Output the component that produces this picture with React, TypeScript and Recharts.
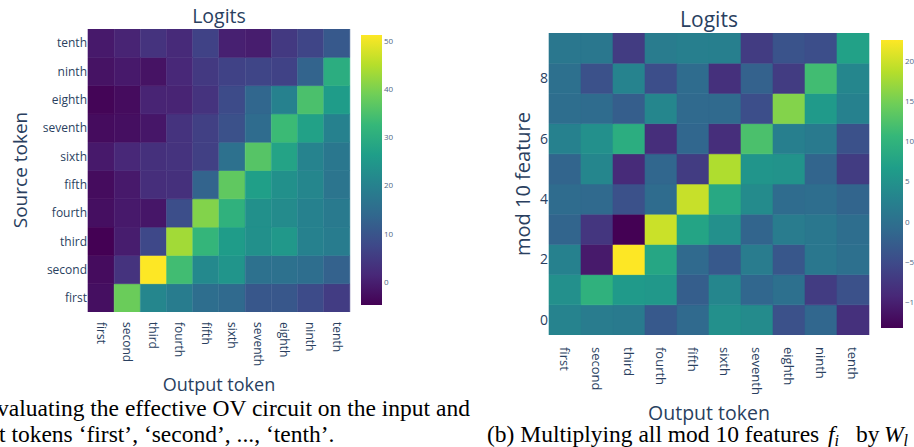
import { BarChart, Bar, Cell, XAxis, YAxis } from 'recharts';

const TOKENS = ['first', 'second', 'third', 'fourth', 'fifth', 'sixth', 'seventh', 'eighth', 'ninth', 'tenth'];

// OV circuit logits, one row per source token (first..tenth), columns = output token
const ovLogits: number[][] = [
  [-2.6, 38.4, 21.0, 18.8, 15.4, 14.3, 10.4, 10.4, 8.1, 5.3],
  [-3.0, 3.6, 51.3, 33.9, 21.6, 24.4, 16.0, 16.0, 15.4, 12.6],
  [-4.8, -0.3, 7.5, 43.4, 32.2, 26.0, 23.3, 25.0, 19.9, 18.8],
  [-2.6, -0.9, -1.4, 8.7, 40.6, 31.1, 23.3, 22.1, 19.9, 18.2],
  [-3.0, -0.9, 2.5, 3.0, 13.0, 37.3, 26.6, 23.3, 21.0, 17.0],
  [-0.9, 1.4, 3.0, 3.6, 5.9, 16.0, 36.2, 27.7, 20.4, 17.6],
  [-3.0, -2.6, -1.4, 3.6, 5.9, 9.2, 14.8, 33.3, 27.2, 19.9],
  [-4.2, -3.0, 0.8, 0.8, 3.6, 8.1, 13.7, 19.9, 35.0, 26.0],
  [-2.0, -0.9, -2.0, 1.4, 4.7, 6.4, 7.0, 6.4, 13.0, 30.0],
  [-0.9, 0.8, 3.6, 1.9, 6.4, 0.2, -0.3, 4.7, 7.0, 10.9],
];

// mod 10 feature logits, one row per feature 0..9
const modLogits: number[][] = [
  [2.9, 1.8, 1.5, -3.2, -1.0, 4.7, 4.0, -4.2, -1.4, -8.2],
  [4.7, 9.7, 6.1, 5.8, -2.5, 3.3, -1.4, 0.0, -6.8, -4.2],
  [2.6, -10.7, 22.6, 8.0, -1.0, -3.2, 1.8, -3.5, 1.1, 0.0],
  [-1.7, -7.5, -13.2, 19.8, 7.6, 4.7, -1.7, 1.8, 1.1, -0.3],
  [-0.7, -1.0, -4.2, -0.7, 19.6, 8.3, 4.0, -0.7, -0.3, -1.7],
  [-1.7, 3.3, -8.9, -1.4, -6.8, 18.3, 5.4, 5.1, -1.7, -6.8],
  [2.6, 4.7, 9.0, -8.5, -1.4, -8.5, 12.2, 2.2, 1.5, -4.2],
  [-0.3, -0.7, -2.5, 3.3, -1.0, -1.0, -4.6, 15.8, 6.1, 2.6],
  [0.0, -4.2, 2.9, -4.6, -0.7, -8.2, -2.1, -6.8, 11.5, 3.3],
  [1.1, 1.1, -6.8, 1.8, 2.2, 2.2, -6.8, -3.9, -4.6, 7.2],
];

const ovTicks = [0, 10, 20, 30, 40, 50];
const modTicks = [-10, -5, 0, 5, 10, 15, 20];
const modRowTicks = [0, 2, 4, 6, 8];

const VIRIDIS = ['#440154', '#482878', '#3e4989', '#31688e', '#26828e', '#1f9e89', '#35b779', '#6ece58', '#b5de2b', '#fde725'];
const INK = '#2a3f5f';
const PLOTLY_FONT = '"Open Sans", verdana, arial, sans-serif';
const SERIF = '"Liberation Serif", "Times New Roman", serif';

const hexToRgb = (h: string) => [1, 3, 5].map((i) => parseInt(h.slice(i, i + 2), 16));

function viridis(t: number) {
  const c = Math.max(0, Math.min(1, t)) * (VIRIDIS.length - 1);
  const i = Math.min(Math.floor(c), VIRIDIS.length - 2);
  const f = c - i;
  const a = hexToRgb(VIRIDIS[i]);
  const b = hexToRgb(VIRIDIS[i + 1]);
  const rgb = a.map((v, k) => Math.round(v + (b[k] - v) * f));
  return `rgb(${rgb.join(',')})`;
}

const extent = (m: number[][]) => {
  const flat = m.flat();
  return [Math.min(...flat), Math.max(...flat)] as [number, number];
};

// one entry per output column, each row stacked as a unit-height cell
function buildColumns(matrix: number[][]) {
  return TOKENS.map((name) => {
    const row: Record<string, number | string> = { name };
    matrix.forEach((_, i) => (row[`r${i}`] = 1));
    return row;
  });
}

const fmtMinus = (v: number) => (v < 0 ? `\u2212${Math.abs(v)}` : `${v}`);

function RotatedTick(props: any) {
  const { x, y, payload, fontSize } = props;
  return (
    <text
      transform={`translate(${x},${y}) rotate(90)`}
      textAnchor="start"
      dy="0.35em"
      fontSize={fontSize}
      fontFamily={PLOTLY_FONT}
      fill={INK}
    >
      {payload.value}
    </text>
  );
}

function Heatmap({
  matrix,
  width,
  height,
  margin,
  yWidth,
  xHeight,
  yTicks,
  yLabel,
  yFont,
  xFont,
  xGap,
}: {
  matrix: number[][];
  width: number;
  height: number;
  margin: { top: number; right: number; bottom: number; left: number };
  yWidth: number;
  xHeight: number;
  yTicks: number[];
  yLabel: (row: number) => string;
  yFont: number;
  xFont: number;
  xGap: number;
}) {
  const [lo, hi] = extent(matrix);
  const data = buildColumns(matrix);
  return (
    <BarChart width={width} height={height} data={data} margin={margin} barCategoryGap={0} barGap={0}>
      <XAxis
        dataKey="name"
        height={xHeight}
        axisLine={false}
        tickLine={false}
        tickSize={0}
        tickMargin={xGap}
        interval={0}
        tick={(p: any) => <RotatedTick {...p} fontSize={xFont} />}
      />
      <YAxis
        type="number"
        domain={[0, matrix.length]}
        ticks={yTicks.map((r) => r + 0.5)}
        tickFormatter={(v: number) => yLabel(Math.floor(v))}
        width={yWidth}
        axisLine={false}
        tickLine={false}
        tickSize={0}
        tickMargin={1}
        interval={0}
        tick={{ fontSize: yFont, fill: INK, fontFamily: PLOTLY_FONT }}
        allowDataOverflow
      />
      {matrix.map((row, i) => (
        <Bar key={i} dataKey={`r${i}`} stackId="cells" isAnimationActive={false}>
          {row.map((v, j) => {
            const c = viridis((v - lo) / (hi - lo));
            return <Cell key={j} fill={c} stroke={c} strokeWidth={0.6} />;
          })}
        </Bar>
      ))}
    </BarChart>
  );
}

function ColorBar({
  id,
  matrix,
  ticks,
  barWidth,
  height,
  fontSize,
}: {
  id: string;
  matrix: number[][];
  ticks: number[];
  barWidth: number;
  height: number;
  fontSize: number;
}) {
  const [lo, hi] = extent(matrix);
  return (
    <BarChart
      width={barWidth + 30}
      height={height}
      data={[{ k: 'scale', span: [lo, hi] }]}
      margin={{ top: 0, right: 0, bottom: 0, left: 0 }}
      barCategoryGap={0}
    >
      <defs>
        <linearGradient id={id} x1="0" y1="1" x2="0" y2="0">
          {VIRIDIS.map((c, i) => (
            <stop key={i} offset={i / (VIRIDIS.length - 1)} stopColor={c} />
          ))}
        </linearGradient>
      </defs>
      <XAxis dataKey="k" hide />
      <YAxis
        orientation="right"
        type="number"
        domain={[lo, hi]}
        ticks={ticks}
        width={30}
        axisLine={false}
        tickLine={false}
        tickSize={0}
        tickMargin={2}
        interval={0}
        tickFormatter={fmtMinus}
        tick={{ fontSize, fill: '#506784', fontFamily: PLOTLY_FONT, textAnchor: 'start' }}
        allowDataOverflow
      />
      <Bar dataKey="span" fill={`url(#${id})`} isAnimationActive={false} />
    </BarChart>
  );
}

export default function App() {
  return (
    <div style={{ position: 'absolute', left: 0, top: 0, width: 914, height: 447, overflow: 'hidden', background: '#fff' }}>
      <div style={{ position: 'absolute', left: 0, top: 0 }}>
        <Heatmap
          matrix={ovLogits}
          width={360}
          height={400}
          margin={{ top: 29, right: 10, bottom: 8, left: 0 }}
          yWidth={88}
          xHeight={80}
          yTicks={TOKENS.map((_, i) => i)}
          yLabel={(r) => TOKENS[r]}
          yFont={12}
          xFont={12}
          xGap={10}
        />
      </div>
      <div style={{ position: 'absolute', left: 361, top: 35 }}>
        <ColorBar id="cbOv" matrix={ovLogits} ticks={ovTicks} barWidth={21} height={270} fontSize={8} />
      </div>

      <div style={{ position: 'absolute', left: 460, top: 0 }}>
        <Heatmap
          matrix={modLogits}
          width={420}
          height={430}
          margin={{ top: 33, right: 11, bottom: 10, left: 0 }}
          yWidth={89}
          xHeight={85}
          yTicks={modRowTicks}
          yLabel={(r) => String(r)}
          yFont={14}
          xFont={13}
          xGap={12}
        />
      </div>
      <div style={{ position: 'absolute', left: 881, top: 40 }}>
        <ColorBar id="cbMod" matrix={modLogits} ticks={modTicks} barWidth={22} height={288} fontSize={8} />
      </div>

      <svg width={914} height={447} style={{ position: 'absolute', left: 0, top: 0, pointerEvents: 'none' }}>
        <g fontFamily={PLOTLY_FONT} fill={INK}>
          <text x={219} y={23} fontSize={19.5} textAnchor="middle">Logits</text>
          <text x={709} y={27} fontSize={21} textAnchor="middle">Logits</text>
          <text x={219} y={391} fontSize={18} textAnchor="middle">Output token</text>
          <text x={709} y={420} fontSize={19.5} textAnchor="middle">Output token</text>
          <text transform="translate(27,170) rotate(-90)" fontSize={19} textAnchor="middle">Source token</text>
          <text transform="translate(530,184) rotate(-90)" fontSize={20} textAnchor="middle">mod 10 feature</text>
        </g>
        <g fontFamily={SERIF} fill="#000" fontSize={23.5}>
          <text x={-3} y={416}>valuating the effective OV circuit on the input and</text>
          <text x={-1} y={442}>t tokens {'\u2018first\u2019, \u2018second\u2019, ..., \u2018tenth\u2019.'}</text>
          <text x={487} y={442}>
            (b) Multiplying all mod 10 features
            <tspan x={828} fontStyle="italic">f</tspan>
            <tspan fontStyle="italic" fontSize={16} dy={4}>i</tspan>
            <tspan x={856} dy={-4}>by</tspan>
            <tspan x={884} fontStyle="italic">W</tspan>
            <tspan fontStyle="italic" fontSize={16} dy={4}>l</tspan>
          </text>
        </g>
      </svg>
    </div>
  );
}
